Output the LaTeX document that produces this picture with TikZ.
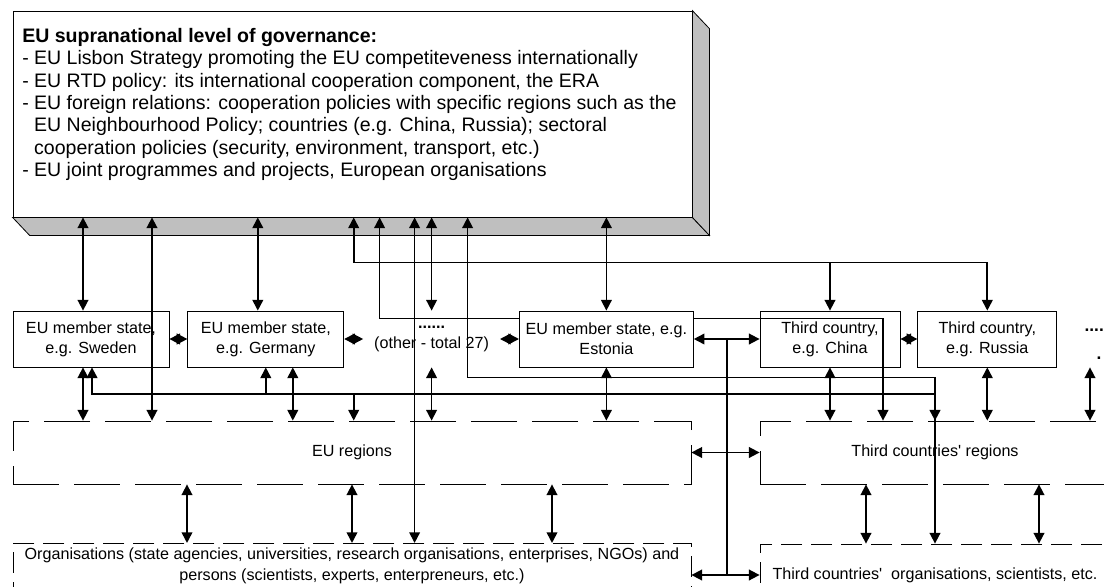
\documentclass[tikz,border=0pt]{standalone}
\usepackage{fontspec}
\setmainfont{Liberation Sans}
\usetikzlibrary{arrows.meta, positioning, calc}

\begin{document}
\begin{tikzpicture}[
    x=0.75pt, y=0.75pt, >={Triangle[length=8pt, width=8pt]},
    ctry/.style={draw, line width=0.6pt, minimum height=42pt, inner sep=1pt,
                 align=center, font=\fontsize{12.1pt}{15pt}\selectfont},
    tier/.style={draw, line width=0.6pt, dash pattern=on 34.5pt off 11.25pt,
                 minimum height=47.25pt, align=center,
                 font=\fontsize{12.1pt}{15pt}\selectfont},
    actors/.style={draw, line width=0.6pt, dash pattern=on 15.75pt off 6.75pt,
                 align=center, font=\fontsize{12.1pt}{16pt}\selectfont},
    link/.style={<->, line width=1.25pt}
  ]
  \clip (0,0) rectangle (1104,-586);

  % supranational level, front face with grey bevel
  \node[draw, fill=white, line width=0.6pt, minimum width=509.25pt,
        minimum height=154.5pt] (gov) at (352.5,-114) {};
  \filldraw[fill=gray!50, line width=0.6pt] (gov.south west) -- (gov.south east)
    -- ([shift={(17,-18)}]gov.south east) -- ([shift={(17,-18)}]gov.south west) -- cycle;
  \filldraw[fill=gray!50, line width=0.6pt] (gov.north east)
    -- ([shift={(17,-18)}]gov.north east) -- ([shift={(17,-18)}]gov.south east)
    -- (gov.south east) -- cycle;
  \node[anchor=north west, inner sep=0pt, align=left,
        font=\fontsize{14.65pt}{16.75pt}\selectfont] (govtext) at (22,-28)
    {\textbf{EU supranational level of governance:}\\
     - EU Lisbon Strategy promoting the EU competiteveness internationally\\
     - EU RTD policy: its international cooperation component, the ERA\\
     - EU foreign relations: cooperation policies with specific regions such as the\\
     \phantom{- }EU Neighbourhood Policy; countries (e.g. China, Russia); sectoral\\
     \phantom{- }cooperation policies (security, environment, transport, etc.)\\
     - EU joint programmes and projects, European organisations};

  % regional and actor tiers
  \node[tier, minimum width=508.5pt] (euregions) at (352,-452.5) {EU regions};
  \node[tier, minimum width=262.5pt] (tcregions) at (935,-452.5)
    {Third countries\textquotesingle\ regions};
  \node[actors, minimum width=508.5pt, minimum height=33pt] (euorgs) at (352,-566)
    {Organisations (state agencies, universities, research organisations, enterprises, NGOs) and\\
     persons (scientists, experts, enterpreneurs, etc.)};
  \node[actors, minimum width=262.5pt, minimum height=46.5pt] (tcorgs) at (935,-575)
    {Third countries\textquotesingle~ organisations, scientists, etc.};

  % national level
  \node[ctry, minimum width=117pt] (sweden) at (91,-339) {EU member state,\\e.g. Sweden};
  \node[ctry, minimum width=117pt, right=13.5pt of sweden] (germany)
    {EU member state,\\e.g. Germany};
  \node[ctry, draw=none, minimum width=102pt, right=14.25pt of germany] (other)
    {\textbf{......}\\(other - total 27)};
  \node[ctry, minimum width=105pt] (china) at (830,-339) {Third country,\\e.g. China};
  \node[ctry, minimum width=104.25pt, right=12.75pt of china] (russia)
    {Third country,\\e.g. Russia};
  \node[ctry, draw=none, minimum width=20pt, font=\fontsize{13pt}{15pt}\selectfont]
    (more) at (1099,-344) {\textbf{......}\\[6pt]\textbf{.}};

  % this one runs behind the Estonia box
  \coordinate (midrun) at ([xshift=39.75pt, yshift=-6pt]china.north);
  \draw[link] ([xshift=-39pt]other.north |- gov.south) |- (midrun)
    -- (midrun |- tcregions.north);
  \node[ctry, fill=white, minimum width=130.5pt, right=14.25pt of other] (estonia)
    {EU member state, e.g.\\Estonia};

  % up to the supranational level
  \draw[link] ([xshift=-6pt]sweden.north) -- ([xshift=-6pt]sweden.north |- gov.south);
  \draw[link] ([xshift=45.75pt]sweden.north |- gov.south)
    -- ([xshift=45.75pt]sweden.north |- euregions.north);
  \draw[link] ([xshift=-6pt]germany.north) -- ([xshift=-6pt]germany.north |- gov.south);
  \draw[link] (other.north |- gov.south) -- (other.north);
  \draw[link] ([xshift=-12.75pt]other.north |- gov.south)
    -- ([xshift=-12.75pt]other.north |- euorgs.north);
  \draw[link] (estonia.north |- gov.south) -- (estonia.north);

  \coordinate (gap) at ($(germany.east)!.5!(other.west)$);
  \coordinate (hirun) at ([yshift=36pt]russia.north);
  \draw[link] (gap |- gov.south) |- (hirun) -- (russia.north);
  \draw[->, line width=1.25pt] (china.north |- hirun) -- (china.north);

  \coordinate (lorun) at ([yshift=-7.5pt]other.south);
  \draw[link] ([xshift=27pt]other.north |- gov.south) |- (tcregions.north |- lorun)
    -- (tcorgs.north);

  % regional bus below the row
  \coordinate (bus) at ([yshift=-20.25pt]sweden.south);
  \draw[link, line width=1.6pt] ([xshift=0.75pt]sweden.south) |- (tcregions.north |- bus)
    -- (tcregions.north);
  \draw[->, line width=1.25pt] (germany.south |- bus) -- (germany.south);
  \draw[->, line width=1.25pt] (gap |- bus) -- (gap |- euregions.north);

  % neighbours in the row
  \draw[link] (sweden) -- (germany);
  \draw[link] (germany) -- (other);
  \draw[link] (other) -- (estonia);
  \draw[link] (china) -- (russia);

  % row down to the regions
  \draw[link] ([xshift=-6pt]sweden.south) -- ([xshift=-6pt]sweden.south |- euregions.north);
  \draw[link] ([xshift=20.25pt]germany.south)
    -- ([xshift=20.25pt]germany.south |- euregions.north);
  \draw[link] (other.south) -- (other.south |- euregions.north);
  \draw[link] (estonia.south) -- (estonia.south |- euregions.north);
  \draw[link] (china.south) -- (china.south |- tcregions.north);
  \draw[link] (russia.south) -- (russia.south |- tcregions.north);
  \draw[link] ([xshift=-6.75pt]more.south |- russia.south)
    -- ([xshift=-6.75pt]more.south |- tcregions.north);

  % regions down to the actors
  \foreach \dx in {-123.75, 0, 150}
    \draw[link] ([xshift=\dx pt]euregions.south) -- ([xshift=\dx pt]euregions.south |- euorgs.north);
  \foreach \dx in {-51.75, 78}
    \draw[link] ([xshift=\dx pt]tcregions.south) -- ([xshift=\dx pt]tcregions.south |- tcorgs.north);

  % EU <-> third countries
  \draw[link] (estonia) -- (china);
  \coordinate (hub) at ($(estonia.east)!.5!(china.west)$);
  \draw[line width=1.25pt] (hub) -- (hub |- tcorgs.west);
  \draw[link] (euregions.east) -- (tcregions.west);
  \draw[link] (euorgs.east |- tcorgs.west) -- (tcorgs.west);
\end{tikzpicture}
\end{document}
